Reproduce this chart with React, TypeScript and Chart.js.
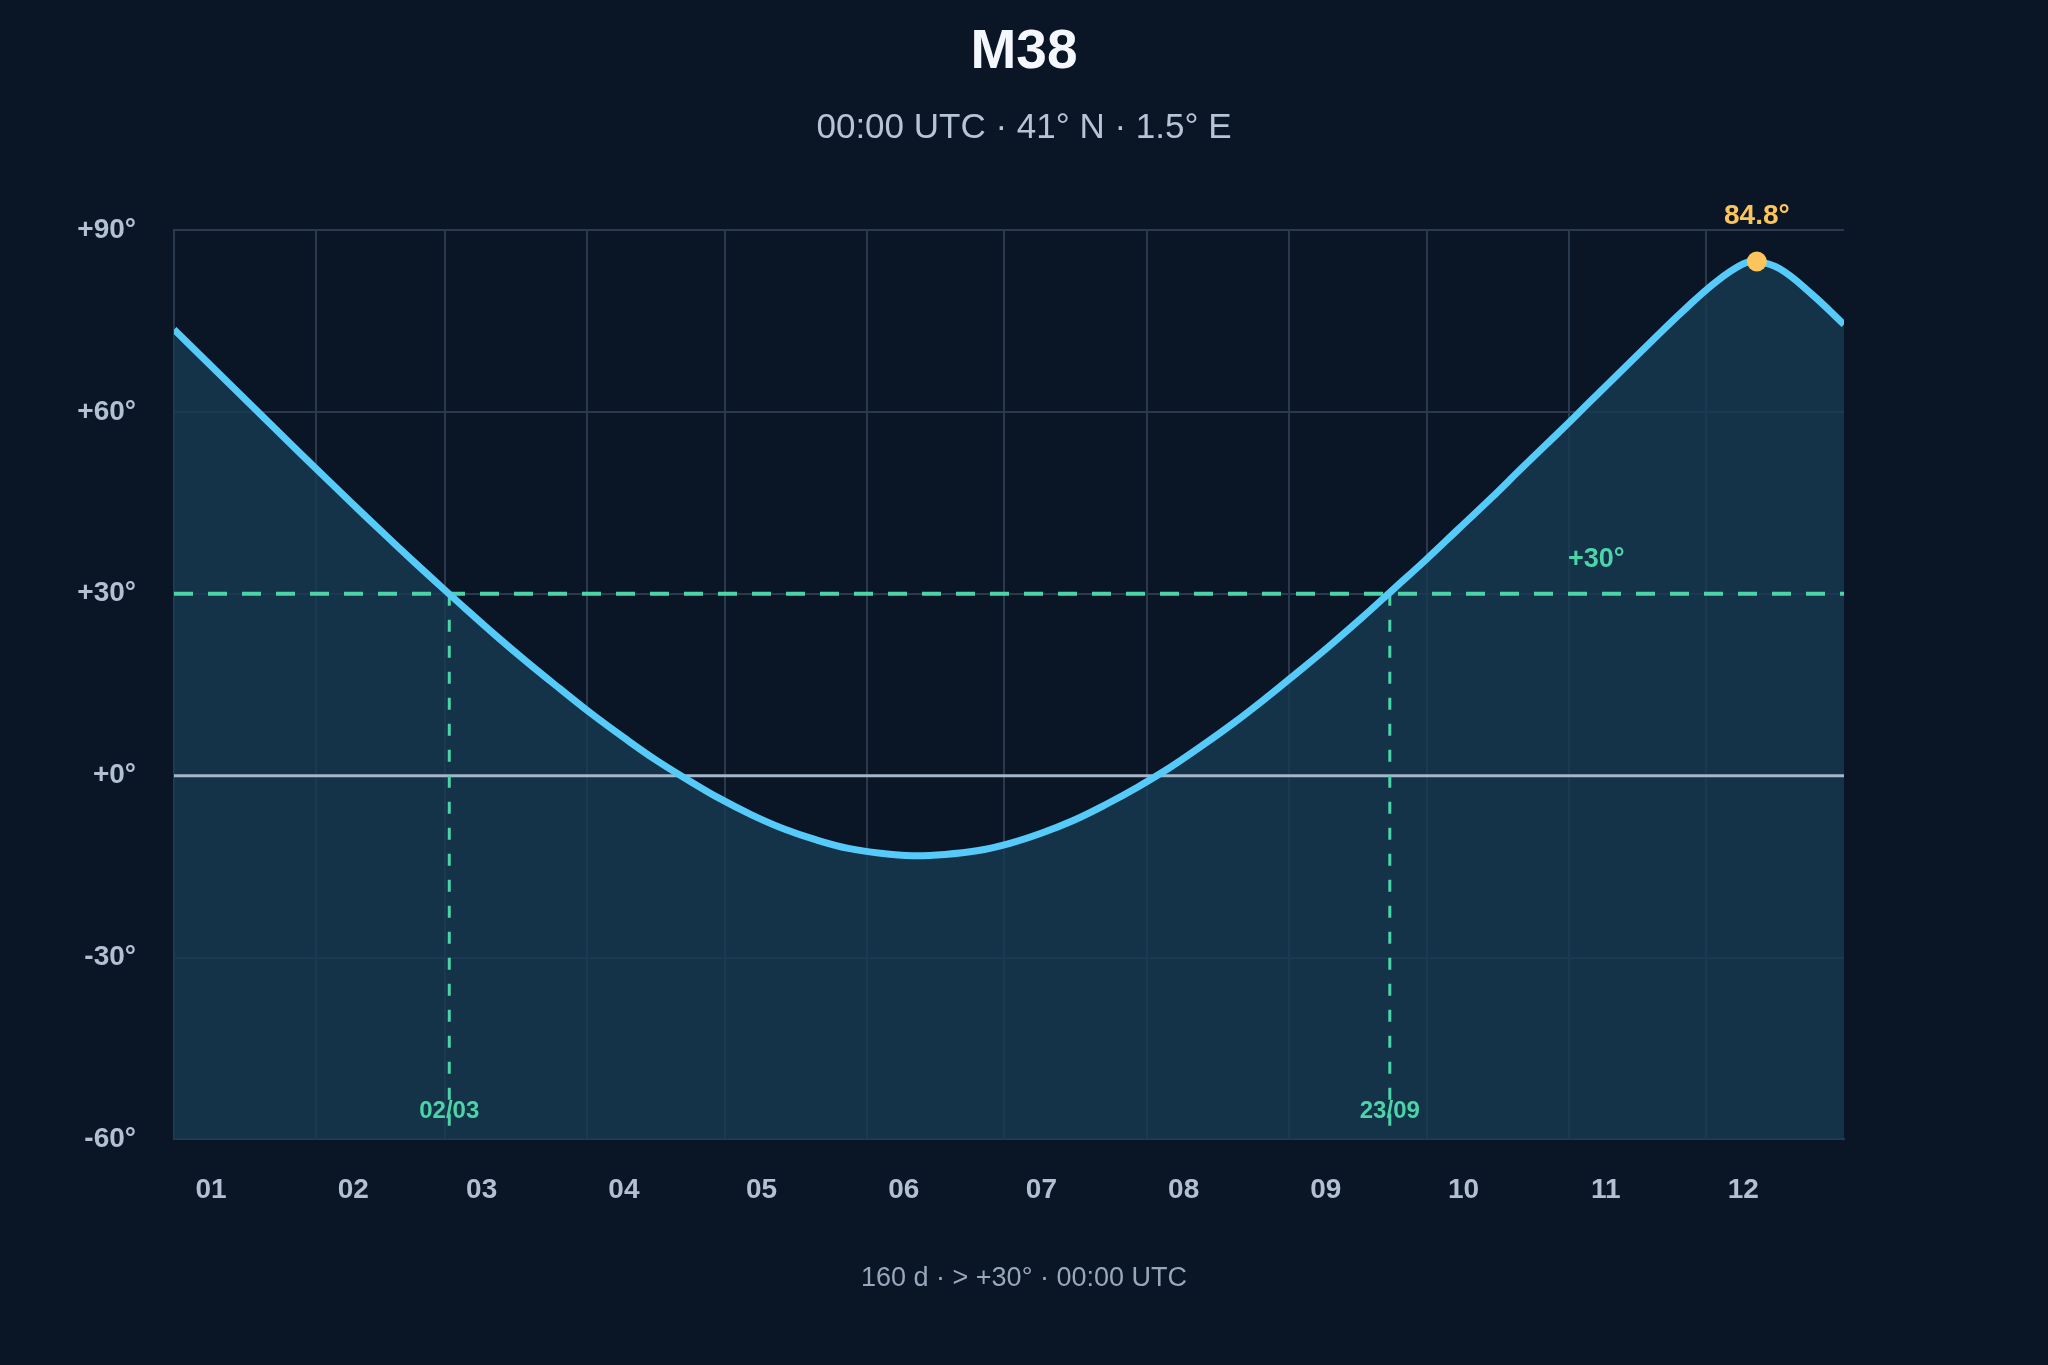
import { useEffect, useRef } from 'react'
import Chart from 'chart.js/auto'

// day of year (0 = 1 Jan) and altitude of M38 at 00:00 UTC
const DAYS = [
  0, 7, 14, 21, 28, 35, 42, 49, 56, 63, 70, 77, 84, 91, 98, 105, 112, 119, 126, 133, 140, 147, 154, 161, 168, 175,
  182, 189, 196, 203, 210, 217, 224, 231, 238, 245, 252, 259, 266, 273, 280, 287, 294, 301, 308, 315, 322, 329, 336,
  342, 345, 350, 357, 364,
]
const ALTITUDE = [
  73.6, 68.4, 63.2, 58.0, 52.8, 47.7, 42.6, 37.6, 32.7, 27.9, 23.2, 18.7, 14.4, 10.2, 6.3, 2.6, -0.7, -3.8, -6.5, -8.8,
  -10.6, -12.0, -12.8, -13.2, -13.0, -12.4, -11.2, -9.5, -7.4, -4.8, -1.9, 1.3, 4.9, 8.7, 12.8, 17.1, 21.5, 26.1, 30.9,
  35.7, 40.7, 45.7, 50.9, 56.0, 61.2, 66.4, 71.6, 76.7, 81.4, 84.4, 84.8, 83.6, 79.4, 74.4,
]

const MONTH_STARTS = [0, 31, 59, 90, 120, 151, 181, 212, 243, 273, 304, 334]
const MONTH_LABELS = ['01', '02', '03', '04', '05', '06', '07', '08', '09', '10', '11', '12']
const Y_TICKS = [-60, -30, 0, 30, 60, 90]

const THRESHOLD = 30
const THRESHOLD_LABEL = '+30°'
const THRESHOLD_LABEL_DAY = 310
const CROSSING_DAYS = [60, 265]
const CROSSING_LABELS = ['02/03', '23/09']
const PEAK_DAY = 345
const PEAK_ALT = 84.8
const PEAK_LABEL = '84.8°'

const TITLE = 'M38'
const SUBTITLE = '00:00 UTC · 41° N · 1.5° E'
const FOOTER = '160 d · > +30° · 00:00 UTC'

const BG = '#0a1525'
const LINE = '#56cbf9'
const TEAL = '#4cd3a7'
const GOLD = '#fcc55c'
const GRID = '#2a3a4e'
const TICK = '#b2c0d2'
const SANS = '"Liberation Sans", Arial, Helvetica, sans-serif'

const annotations = {
  id: 'annotations',
  afterDatasetsDraw(chart: any) {
    const { ctx, chartArea, scales } = chart
    const x = scales.x
    const y = scales.y
    ctx.save()
    ctx.textAlign = 'center'
    ctx.textBaseline = 'middle'

    ctx.font = `bold 27px ${SANS}`
    ctx.fillStyle = TEAL
    ctx.fillText(THRESHOLD_LABEL, x.getPixelForValue(THRESHOLD_LABEL_DAY), y.getPixelForValue(THRESHOLD) - 34)

    ctx.font = `bold 24px ${SANS}`
    CROSSING_DAYS.forEach((d, i) => {
      ctx.fillText(CROSSING_LABELS[i], x.getPixelForValue(d), chartArea.bottom - 28)
    })

    ctx.font = `bold 28px ${SANS}`
    ctx.fillStyle = GOLD
    ctx.fillText(PEAK_LABEL, x.getPixelForValue(PEAK_DAY), y.getPixelForValue(PEAK_ALT) - 45)

    ctx.font = `27px ${SANS}`
    ctx.fillStyle = '#98a8bc'
    ctx.fillText(FOOTER, chart.width / 2, chartArea.bottom + 139)
    ctx.restore()
  },
}

export default function App() {
  const canvasRef = useRef<HTMLCanvasElement | null>(null)
  const chartRef = useRef<Chart | null>(null)

  useEffect(() => {
    if (chartRef.current) chartRef.current.destroy()
    const ctx = canvasRef.current?.getContext('2d')
    if (!ctx) return

    const xMax = DAYS[DAYS.length - 1]

    chartRef.current = new Chart(ctx, {
      type: 'line',
      data: {
        datasets: [
          {
            label: 'peak',
            data: [{ x: PEAK_DAY, y: PEAK_ALT }],
            showLine: false,
            pointRadius: 10,
            pointBackgroundColor: GOLD,
            pointBorderWidth: 0,
            order: 0,
          },
          {
            label: 'altitude',
            data: DAYS.map((d, i) => ({ x: d, y: ALTITUDE[i] })),
            borderColor: LINE,
            borderWidth: 7,
            backgroundColor: 'rgba(23, 59, 83, 0.8)',
            fill: 'start',
            pointRadius: 0,
            tension: 0.4,
            order: 1,
          },
          ...CROSSING_DAYS.map((d) => ({
            label: 'crossing',
            data: [
              { x: d, y: THRESHOLD },
              { x: d, y: Y_TICKS[0] },
            ],
            borderColor: TEAL,
            borderWidth: 3,
            borderDash: [12, 14],
            pointRadius: 0,
            fill: false,
            order: 2,
          })),
          {
            label: 'threshold',
            data: [
              { x: 0, y: THRESHOLD },
              { x: xMax, y: THRESHOLD },
            ],
            borderColor: TEAL,
            borderWidth: 4,
            borderDash: [19, 15],
            pointRadius: 0,
            fill: false,
            order: 3,
          },
          {
            label: 'horizon',
            data: [
              { x: 0, y: 0 },
              { x: xMax, y: 0 },
            ],
            borderColor: '#a7b7cb',
            borderWidth: 3,
            pointRadius: 0,
            fill: false,
            order: 4,
          },
        ],
      },
      options: {
        animation: false,
        responsive: true,
        maintainAspectRatio: false,
        layout: { padding: { top: 0, left: 0, right: 0, bottom: 124 } },
        scales: {
          x: {
            type: 'linear',
            min: 0,
            max: xMax,
            afterBuildTicks: (scale: any) => {
              scale.ticks = MONTH_STARTS.map((v) => ({ value: v }))
            },
            ticks: {
              callback: (v: any) => MONTH_LABELS[MONTH_STARTS.indexOf(Number(v))] ?? '',
              color: TICK,
              font: { family: SANS, size: 28, weight: 'bold' },
              padding: 34,
              labelOffset: 37,
              maxRotation: 0,
              autoSkip: false,
            },
            grid: { color: GRID, lineWidth: 2, drawTicks: false },
            border: { display: true, color: GRID, width: 2 },
          },
          y: {
            min: -60,
            max: 90,
            afterBuildTicks: (scale: any) => {
              scale.ticks = Y_TICKS.map((v) => ({ value: v }))
            },
            afterFit: (scale: any) => {
              scale.width = 174
            },
            ticks: {
              callback: (v: any) => (Number(v) >= 0 ? '+' : '') + v + '°',
              color: TICK,
              font: { family: SANS, size: 28, weight: 'bold' },
              padding: 38,
            },
            grid: { color: GRID, lineWidth: 2, drawTicks: false },
            border: { display: true, color: GRID, width: 2 },
          },
          yRight: {
            position: 'right',
            min: -60,
            max: 90,
            ticks: { display: false },
            grid: { display: false, drawTicks: false },
            border: { display: false },
            afterFit: (scale: any) => {
              scale.width = 204
            },
          },
        },
        plugins: {
          legend: { display: false },
          tooltip: { enabled: false },
          filler: { drawTime: 'beforeDatasetsDraw' },
          title: {
            display: true,
            text: TITLE,
            color: '#f4f7fb',
            font: { family: SANS, size: 55, weight: 'bold' },
            padding: { top: 20, bottom: 21 },
          },
          subtitle: {
            display: true,
            text: SUBTITLE,
            color: '#b6c4d6',
            font: { family: SANS, size: 35, weight: 'normal' },
            padding: { top: 0, bottom: 81 },
          },
        },
      },
      plugins: [annotations],
    } as any)

    return () => {
      if (chartRef.current) chartRef.current.destroy()
      chartRef.current = null
    }
  }, [])

  return (
    <div style={{ position: 'fixed', inset: 0, background: BG }}>
      <div style={{ position: 'relative', width: 2048, height: 1365 }}>
        <canvas ref={canvasRef}></canvas>
      </div>
    </div>
  )
}
